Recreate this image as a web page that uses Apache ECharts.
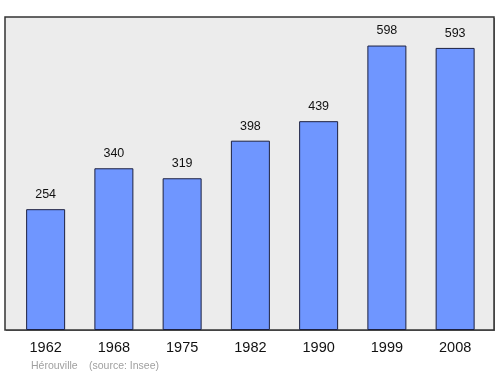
<!DOCTYPE html>
<html>
<head>
<meta charset="utf-8">
<script src="https://cdn.jsdelivr.net/npm/echarts@6/dist/echarts.min.js"></script>
<style>html,body{margin:0;padding:0;background:#fff}#c{width:500px;height:374px}</style>
</head>
<body>
<div id="c"></div>
<script>
var years = ['1962','1968','1975','1982','1990','1999','2008'];
var population = [254, 340, 319, 398, 439, 598, 593];
var footnotePlace = 'Hérouville';
var footnoteSource = '(source: Insee)';

var chart = echarts.init(document.getElementById('c'), null, {renderer: 'canvas'});
chart.setOption({
  animation: false,
  backgroundColor: '#ffffff',
  graphic: [
    {type: 'rect', z: -10, shape: {x: 6, y: 18, width: 489, height: 313}, style: {fill: '#777', stroke: null}},
    {type: 'rect', z: -9, shape: {x: 5, y: 17, width: 489, height: 313}, style: {fill: '#ececec', stroke: '#333', lineWidth: 1.5}},
    {type: 'text', z: 5, left: 31, top: 361, style: {text: footnotePlace, fill: '#a0a0a0', font: '10.5px "Liberation Sans", Arial, sans-serif'}},
    {type: 'text', z: 5, left: 89, top: 361, style: {text: footnoteSource, fill: '#a0a0a0', font: '10.5px "Liberation Sans", Arial, sans-serif'}}
  ],
  grid: {left: 11.5, right: 10.75, top: 17, bottom: 44},
  xAxis: {
    type: 'category', data: years,
    axisLine: {show: false}, axisTick: {show: false},
    axisLabel: {color: '#111', fontSize: 14.5, fontFamily: 'Liberation Sans, Arial, sans-serif', margin: 10}
  },
  yAxis: {
    type: 'value', min: 0, max: 658,
    show: false, splitLine: {show: false}
  },
  series: [{
    type: 'bar', data: population, barWidth: 39,
    itemStyle: {color: '#6f96ff', borderColor: '#1c2040', borderWidth: 1},
    label: {show: true, position: 'top', distance: 8, color: '#111', fontSize: 12.5, fontFamily: 'Liberation Sans, Arial, sans-serif'}
  }]
});
</script>
</body>
</html>
